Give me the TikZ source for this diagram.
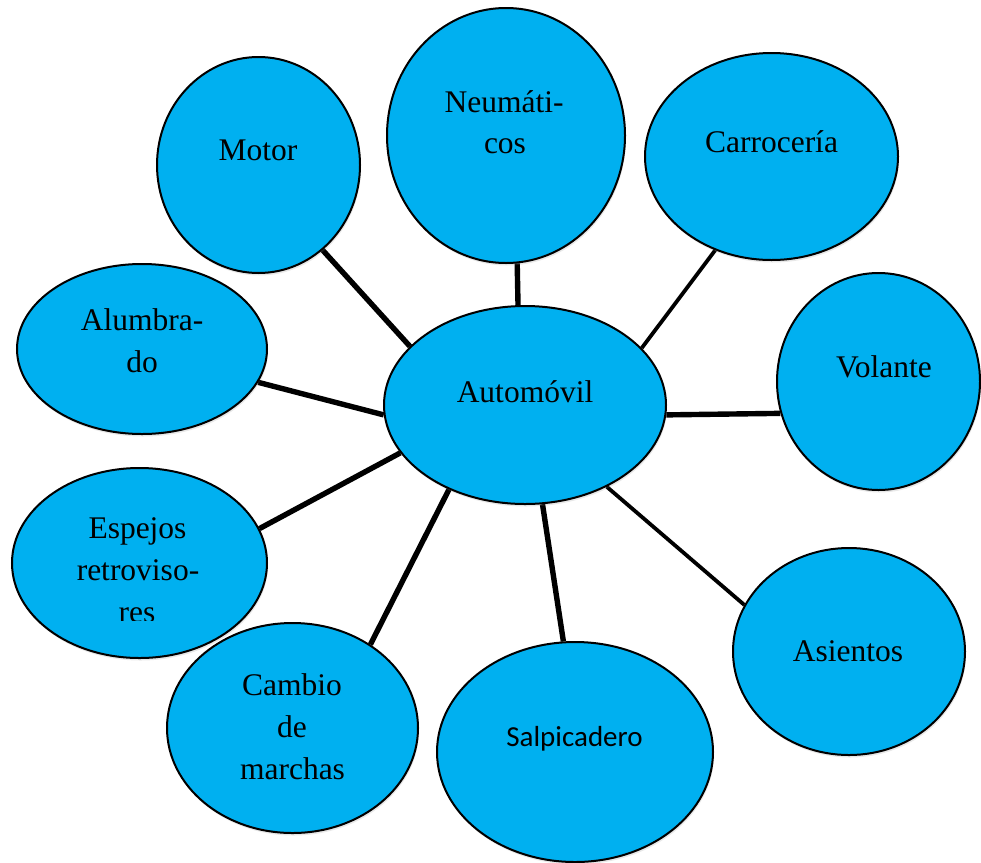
\documentclass[tikz,border=0pt]{standalone}
\usepackage{fontspec}
\setmainfont{Liberation Serif}
\newfontfamily\calibrilike{Carlito}
\usetikzlibrary{shapes.geometric,shadows,backgrounds}
\definecolor{bubblefill}{RGB}{0,176,240}
\tikzset{
  bubble/.style 2 args={ellipse, draw=black, line width=2pt, fill=bubblefill,
    inner sep=0pt, minimum width=#1, minimum height=#2,
    drop shadow={opacity=0.18, shadow xshift=1pt, shadow yshift=-2.5pt}},
  lbl/.style={font=\fontsize{31.5}{42}\selectfont, anchor=base, inner sep=0pt},
  link/.style={line width=5.4pt, black},
  thinlink/.style={line width=3.8pt, black}
}
\begin{document}
\begin{tikzpicture}[x=1pt, y=-1pt]
\useasboundingbox (0,0) rectangle (981,862);

% bubbles
\node[bubble={282pt}{198pt}] (auto) at (525,405) {};
\node[bubble={203pt}{216pt}] (motor) at (258.5,165) {};
\node[bubble={238pt}{255pt}] (neum) at (506,135.5) {};
\node[bubble={253pt}{207pt}] (carr) at (771.5,156.5) {};
\node[bubble={203pt}{217pt}] (vol) at (878.5,381.5) {};
\node[bubble={250pt}{170pt}] (alum) at (142,349) {};
\node[bubble={255pt}{190pt}] (esp) at (139.5,563) {};
\node[bubble={251pt}{210pt}] (camb) at (292.5,728) {};
\node[bubble={276pt}{220pt}] (salp) at (575,752) {};
\node[bubble={232pt}{207pt}] (asi) at (849,651.5) {};

% spokes from the centre bubble
\begin{scope}[on background layer]
  \draw[link] (auto.153.6) -- (motor.-53.2);
  \draw[link] (auto.94.7) -- (neum.-85);
  \draw[thinlink] (auto.26.4) -- (carr.-121.1);
  \draw[link] (auto.-4.6) -- (vol.198.5);
  \draw[link] (auto.184) -- (alum.-16.5);
  \draw[link] (auto.201.1) -- (esp.16.9);
  \draw[link] (auto.228.7) -- (camb.47.6);
  \draw[link] (auto.-80.8) -- (salp.96.2);
  \draw[thinlink] (auto.-45.4) -- (asi.156.7);
\end{scope}

% labels
\node[lbl] (tauto) at (525,402) {Automóvil};
\node[lbl] (tmotor) at (258,160) {Motor};
\node[lbl] (tneum1) at (504,112) {Neumáti-};
\node[lbl] (tneum2) at (505,153) {cos};
\node[lbl] (tcarr) at (771.5,152) {Carrocería};
\node[lbl] (tvol) at (884,377) {Volante};
\node[lbl] (talum1) at (142,330) {Alumbra-};
\node[lbl] (talum2) at (142,372) {do};
\begin{scope}
  \clip (0,440) rectangle (300,620);
  \node[lbl] (tesp1) at (137.5,538) {Espejos};
  \node[lbl] (tesp2) at (138,580) {retroviso-};
  \node[lbl] (tesp3) at (137,622) {res};
\end{scope}
\node[lbl] (tcamb1) at (292,695) {Cambio};
\node[lbl] (tcamb2) at (292,737) {de};
\node[lbl] (tcamb3) at (292.5,779) {marchas};
\node[lbl, font=\calibrilike\fontsize{29}{36}\selectfont] (tsalp) at (574.5,746) {Salpicadero};
\node[lbl] (tasi) at (848,661) {Asientos};
\end{tikzpicture}
\end{document}
